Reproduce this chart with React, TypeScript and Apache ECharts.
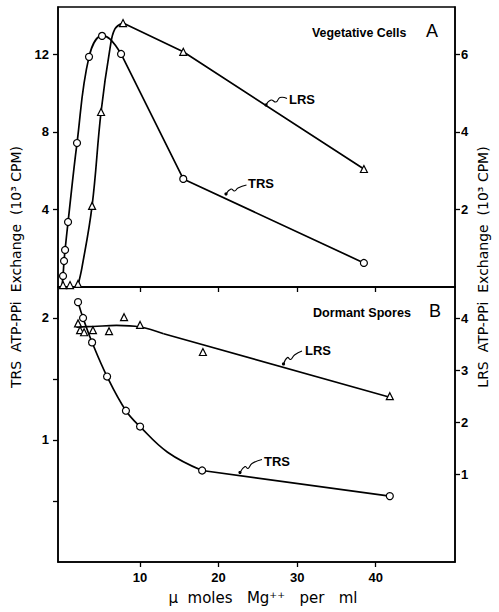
import React, { useEffect, useRef } from "react";
import * as echarts from "echarts";

// ---- Data ----
// Panel A (Vegetative Cells)
const trsA_x = [0.19, 0.32, 0.45, 0.83, 1.97, 3.5, 5.16, 7.58, 15.5, 38.5];
const trsA_y = [0.57, 1.34, 1.91, 3.35, 7.42, 11.86, 12.94, 12.01, 5.57, 1.24];
const lrsA_x = [0.19, 1.08, 2.1, 3.89, 5.03, 7.83, 15.5, 38.5];
const lrsA_y = [0.05, 0.05, 0.08, 2.09, 4.51, 6.8, 6.06, 3.04];
// drawn curves (hand-fitted lines in the figure)
const trsA_curve = [[0.05, 0.0], [0.19, 0.57], [0.32, 1.34], [0.45, 1.91], [0.83, 3.35], [1.97, 7.42], [3.5, 11.86], [5.16, 12.94], [6.18, 12.78], [7.58, 12.01]];
const trsA_tail = [[7.58, 12.01], [15.5, 5.57], [38.5, 1.24]];
const lrsA_curve = [[2.1, 0.05], [2.6, 0.5], [3.89, 2.09], [5.03, 4.51], [6.18, 6.16], [6.8, 6.65], [7.83, 6.8]];
const lrsA_tail = [[7.83, 6.8], [15.5, 6.06], [38.5, 3.04]];

// Panel B (Dormant Spores)
const trsB_x = [2.1, 2.74, 3.89, 5.8, 8.2, 10.0, 17.9, 41.8];
const trsB_y = [2.13, 2.0, 1.8, 1.52, 1.24, 1.11, 0.75, 0.54];
const lrsB_x = [2.1, 2.36, 2.87, 4.0, 6.05, 7.96, 10.0, 18.0, 41.8];
const lrsB_y = [3.9, 3.77, 3.73, 3.77, 3.75, 4.02, 3.87, 3.35, 2.5];
const trsB_curve = [[2.1, 2.13], [2.74, 2.0], [3.89, 1.8], [5.8, 1.52], [8.2, 1.24], [10.0, 1.11], [13.5, 0.9], [17.9, 0.75]];
const trsB_tail = [[17.9, 0.75], [41.8, 0.54]];
const lrsB_curve = [[1.9, 3.83], [4.0, 3.84], [7.0, 3.86], [10.0, 3.83], [13.0, 3.7]];
const lrsB_tail = [[13.0, 3.7], [41.8, 2.48]];

// Tick values
const xTicks = [10, 20, 30, 40];
const yA_left = [4, 8, 12];
const yA_right = [2, 4, 6];
const yB_leftTicks = [0.5, 1, 1.5, 2];
const yB_leftLabels = [1, 2];
const yB_right = [1, 2, 3, 4];

const FONT = "'Liberation Sans', Arial, sans-serif";
const WIDE = "'DejaVu Sans', sans-serif";

function zip(xs: number[], ys: number[]) {
  return xs.map((x, i) => [x, ys[i]]);
}

export default function App() {
  const ref = useRef<HTMLDivElement>(null);
  useEffect(() => {
    if (!ref.current) return;
    const chart = echarts.init(ref.current, null, { renderer: "svg" });
    const axisLine = { show: true, onZero: false, lineStyle: { color: "#000", width: 1.5 } };
    const tickStyle = { lineStyle: { color: "#000", width: 1.3 }, length: 5 };
    const labelStyle = { color: "#000", fontSize: 13, fontWeight: "bold" as const, fontFamily: FONT };
    const lineS = (x: number, y: number, data: number[][], smooth: number | boolean) => ({
      type: "line",
      xAxisIndex: x,
      yAxisIndex: y,
      data,
      smooth,
      symbol: "none",
      lineStyle: { color: "#000", width: 1.7 },
      z: 2,
    });
    const scat = (x: number, y: number, data: number[][], sym: string, size: number) => ({
      type: "scatter",
      xAxisIndex: x,
      yAxisIndex: y,
      data,
      symbol: sym,
      symbolSize: size,
      itemStyle: { color: "#fff", borderColor: "#000", borderWidth: 1.2, opacity: 1 },
      z: 5,
    });
    const xAxisBase = {
      type: "value",
      min: -0.45,
      max: 50.1,
      axisLine,
      splitLine: { show: false },
      axisTick: { ...tickStyle, customValues: xTicks },
    };
    const squig = (pts: number[][]) => ({
      type: "polyline",
      shape: { points: pts, smooth: 0.5 },
      style: { stroke: "#000", lineWidth: 1.1, fill: null },
    });
    const dot = (x: number, y: number) => ({
      type: "circle",
      shape: { cx: x, cy: y, r: 1.6 },
      style: { fill: "#000" },
    });
    const txt = (x: number, y: number, t: string, font: string) => ({
      type: "text",
      x,
      y,
      style: {
        text: t,
        fill: "#000",
        font,
        textAlign: "left",
        textVerticalAlign: "middle",
      },
    });
    chart.setOption({
      animation: false,
      backgroundColor: "#fff",
      grid: [
        { left: 58, right: 44, top: 7, height: 280, show: true, borderColor: "#000", borderWidth: 1.5, backgroundColor: "transparent" },
        { left: 58, right: 44, top: 287, height: 275, show: true, borderColor: "#000", borderWidth: 1.5, backgroundColor: "transparent" },
      ],
      xAxis: [
        { ...xAxisBase, gridIndex: 0, axisLabel: { show: false } },
        { ...xAxisBase, gridIndex: 1, axisLabel: { ...labelStyle, customValues: xTicks, margin: 9 } },
      ],
      yAxis: [
        {
          type: "value", gridIndex: 0, position: "left", min: 0, max: 14.43,
          axisLine, splitLine: { show: false },
          axisTick: { ...tickStyle, customValues: yA_left },
          axisLabel: { ...labelStyle, customValues: yA_left, margin: 9 },
        },
        {
          type: "value", gridIndex: 0, position: "right", min: 0, max: 7.215,
          axisLine, splitLine: { show: false },
          axisTick: { ...tickStyle, customValues: yA_right },
          axisLabel: { ...labelStyle, customValues: yA_right, margin: 6 },
        },
        {
          type: "value", gridIndex: 1, position: "left", min: 0, max: 2.254,
          axisLine, splitLine: { show: false },
          axisTick: { ...tickStyle, customValues: yB_leftTicks },
          axisLabel: { ...labelStyle, customValues: yB_leftLabels, margin: 9 },
        },
        {
          type: "value", gridIndex: 1, position: "right", min: -0.69, max: 4.6,
          axisLine, splitLine: { show: false },
          axisTick: { ...tickStyle, customValues: yB_right },
          axisLabel: { ...labelStyle, customValues: yB_right, margin: 6 },
        },
      ],
      series: [
        lineS(0, 0, trsA_curve, 0.4),
        lineS(0, 0, trsA_tail, false),
        lineS(0, 1, lrsA_curve, 0.4),
        lineS(0, 1, lrsA_tail, false),
        scat(0, 0, zip(trsA_x, trsA_y), "circle", 7),
        scat(0, 1, zip(lrsA_x, lrsA_y), "triangle", 7),
        lineS(1, 2, trsB_curve, 0.4),
        lineS(1, 2, trsB_tail, false),
        lineS(1, 3, lrsB_curve, 0.4),
        lineS(1, 3, lrsB_tail, false),
        scat(1, 2, zip(trsB_x, trsB_y), "circle", 7),
        scat(1, 3, zip(lrsB_x, lrsB_y), "triangle", 7),
      ],
      graphic: [
        txt(312, 33, "Vegetative Cells", `bold 12.4px ${FONT}`),
        txt(426, 31, "A", `18px ${FONT}`),
        txt(313, 313, "Dormant Spores", `bold 12.6px ${FONT}`),
        txt(429, 311, "B", `18px ${FONT}`),
        txt(289, 99, "LRS", `bold 13px ${FONT}`),
        squig([[266, 105], [271, 100], [276, 102], [280, 97.5], [287, 98.5]]),
        dot(266, 105),
        txt(248, 183, "TRS", `bold 13px ${FONT}`),
        squig([[226, 194], [231, 189], [234.5, 191], [238, 188], [246.5, 185]]),
        dot(226, 194),
        txt(305, 350, "LRS", `bold 13px ${FONT}`),
        squig([[283.5, 364], [287.5, 357.5], [290.5, 359.5], [294.5, 355], [302, 351]]),
        dot(283.5, 364),
        txt(264, 461, "TRS", `bold 13px ${FONT}`),
        squig([[240, 472.5], [245, 466.5], [248, 468.5], [252, 463.5], [262, 459.5]]),
        dot(240, 472.5),
        {
          type: "text", x: 16, y: 267, rotation: Math.PI / 2,
          style: { text: "TRS  ATP-PPi  Exchange  (10³ CPM)", fill: "#000", font: `14px ${WIDE}`, textAlign: "center", textVerticalAlign: "middle" },
        },
        {
          type: "text", x: 483, y: 267, rotation: Math.PI / 2,
          style: { text: "LRS  ATP-PPi  Exchange  (10³ CPM)", fill: "#000", font: `14px ${WIDE}`, textAlign: "center", textVerticalAlign: "middle" },
        },
        {
          type: "text", x: 263, y: 598,
          style: { text: "μ  moles   Mg⁺⁺   per   ml", fill: "#000", font: `15px ${WIDE}`, textAlign: "center", textVerticalAlign: "middle" },
        },
      ],
    });
    return () => chart.dispose();
  }, []);
  return <div ref={ref} style={{ position: "fixed", left: 0, top: 0, width: 499, height: 612, background: "#fff" }} />;
}
